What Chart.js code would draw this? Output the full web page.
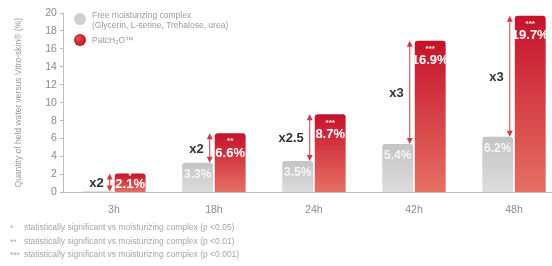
<!DOCTYPE html>
<html>
<head>
<meta charset="utf-8">
<script src="https://cdn.jsdelivr.net/npm/chart.js@4"></script>
<style>
  html, body { margin: 0; padding: 0; background: #fff; overflow: hidden; }
  #wrap { width: 552px; height: 266px; overflow: hidden; }
</style>
</head>
<body>
<!-- canvas runs a little past the right edge so the last group lands where the reference has it -->
<div id="wrap"><canvas id="chart" width="564" height="266"></canvas></div>
<script>
// data
const timepoints = ['3h', '18h', '24h', '42h', '48h'];
const complexValues = [0.1, 3.3, 3.5, 5.4, 6.2];
const patchValues = [2.1, 6.6, 8.7, 16.9, 19.7];
const stars = ['*', '**', '***', '***', '***'];
const factors = ['x2', 'x2', 'x2.5', 'x3', 'x3'];
const yTicks = [0, 2, 4, 6, 8, 10, 12, 14, 16, 18, 20];
const legendLabels = ['Free moisturizing complex', '(Glycerin, L-serine, Trehalose, urea)', 'PatcH₂O™'];
const footnotes = [
  ['*', 'statistically significant vs moisturizing complex (p <0.05)'],
  ['**', 'statistically significant vs moisturizing complex (p <0.01)'],
  ['***', 'statistically significant vs moisturizing complex (p <0.001)']
];

const FONT = '"Liberation Sans", Arial, sans-serif';

// gradient per bar, from its top down to the baseline
function barGradient(top, bottom) {
  return ctx => {
    const chart = ctx.chart;
    const y = chart.scales.y;
    if (!chart.chartArea || !y || ctx.raw == null) return top;
    const y0 = y.getPixelForValue(ctx.raw);
    const y1 = y.getPixelForValue(0);
    const g = chart.ctx.createLinearGradient(0, y0, 0, Math.max(y1, y0 + 1));
    g.addColorStop(0, top);
    g.addColorStop(1, bottom);
    return g;
  };
}

function arrow(c, x, yTop, yBot) {
  c.save();
  c.strokeStyle = '#d23a44';
  c.fillStyle = '#d23a44';
  c.lineWidth = 1;
  c.beginPath();
  c.moveTo(x, yTop + 4);
  c.lineTo(x, yBot - 4);
  c.stroke();
  c.beginPath();
  c.moveTo(x, yTop); c.lineTo(x - 3, yTop + 6); c.lineTo(x + 3, yTop + 6); c.closePath();
  c.fill();
  c.beginPath();
  c.moveTo(x, yBot); c.lineTo(x - 3, yBot - 6); c.lineTo(x + 3, yBot - 6); c.closePath();
  c.fill();
  c.restore();
}

const decorations = {
  id: 'decorations',
  afterDatasetsDraw(chart) {
    const c = chart.ctx;
    const grayBars = chart.getDatasetMeta(0).data;
    const redBars = chart.getDatasetMeta(1).data;
    c.save();
    c.textAlign = 'center';
    c.textBaseline = 'middle';
    timepoints.forEach((t, i) => {
      const g = grayBars[i], r = redBars[i];
      // grey value label
      if (complexValues[i] >= 1) {
        c.fillStyle = 'rgba(255,255,255,0.8)';
        c.font = 'bold 12px ' + FONT;
        c.fillText(complexValues[i].toFixed(1) + '%', g.x, g.y + 12);
      }
      // red value label + stars
      c.fillStyle = '#fff';
      const short = (g.base - r.y) < 30;
      c.font = 'bold 13px ' + FONT;
      c.fillText(patchValues[i].toFixed(1) + '%', r.x, short ? r.y + 11 : r.y + 20);
      c.font = 'bold 8px ' + FONT;
      c.fillText(stars[i], r.x, short ? r.y + 2 : r.y + 8);
      // arrow between grey and red tops
      const ax = r.x - r.width / 2 - 5;
      arrow(c, ax, r.y, g.y);
      c.fillStyle = '#333';
      c.font = 'bold 13px ' + FONT;
      c.textAlign = 'right';
      c.fillText(factors[i], ax - 6, (r.y + g.y) / 2 + 1);
      c.textAlign = 'center';
    });
    c.restore();
  },
  afterDraw(chart) {
    const c = chart.ctx;
    c.save();
    // legend
    const lx = 80;
    c.fillStyle = '#cfcfcf';
    c.beginPath(); c.arc(lx, 19, 6, 0, Math.PI * 2); c.fill();
    const rg = c.createRadialGradient(lx - 2, 38, 1, lx, 40, 7);
    rg.addColorStop(0, '#e24a4a');
    rg.addColorStop(1, '#b8101f');
    c.fillStyle = rg;
    c.beginPath(); c.arc(lx, 40, 6, 0, Math.PI * 2); c.fill();
    c.fillStyle = '#9a9a9a';
    c.font = '8.5px ' + FONT;
    c.textBaseline = 'middle';
    c.textAlign = 'left';
    c.fillText(legendLabels[0], lx + 12, 16);
    c.fillText(legendLabels[1], lx + 12, 26);
    c.fillText(legendLabels[2], lx + 12, 41);
    // footnotes
    c.fillStyle = '#a6a6a6';
    footnotes.forEach((f, i) => {
      const y = 228 + i * 13.5;
      c.fillText(f[0], 10, y + 1);
      c.fillText(f[1], 24, y);
    });
    c.restore();
  }
};

new Chart(document.getElementById('chart'), {
  type: 'bar',
  data: {
    labels: timepoints,
    datasets: [{
      label: legendLabels[0],
      data: complexValues,
      backgroundColor: barGradient('#c4c4c4', '#dcdcdc'),
      borderRadius: { topLeft: 3, topRight: 3 },
      borderSkipped: 'bottom',
      barPercentage: 0.95,
      categoryPercentage: 0.65
    }, {
      label: legendLabels[2],
      data: patchValues,
      backgroundColor: barGradient('#c5122b', '#e67063'),
      borderRadius: { topLeft: 3, topRight: 3 },
      borderSkipped: 'bottom',
      barPercentage: 0.95,
      categoryPercentage: 0.65
    }]
  },
  options: {
    responsive: false,
    animation: false,
    layout: { padding: { top: 13, right: 0, bottom: 47, left: 14 } },
    plugins: {
      legend: { display: false },
      tooltip: { enabled: false }
    },
    scales: {
      x: {
        grid: { display: false },
        border: { color: '#bdbdbd' },
        ticks: { color: '#8a8a8a', font: { family: FONT, size: 10.5 }, padding: 3 }
      },
      y: {
        min: 0,
        max: 20,
        afterBuildTicks: axis => { axis.ticks = yTicks.map(v => ({ value: v })); },
        grid: { drawOnChartArea: false, drawTicks: true, tickLength: 4, color: '#bdbdbd' },
        border: { color: '#bdbdbd' },
        ticks: { color: '#8a8a8a', font: { family: FONT, size: 10.5 }, padding: 3 },
        title: {
          display: true,
          text: 'Quantity of held water versus Vitro-skin® (%)',
          color: '#9a9a9a',
          font: { family: FONT, size: 8.5 },
          padding: { top: 0, bottom: 18 }
        }
      }
    }
  },
  plugins: [decorations]
});
</script>
</body>
</html>
